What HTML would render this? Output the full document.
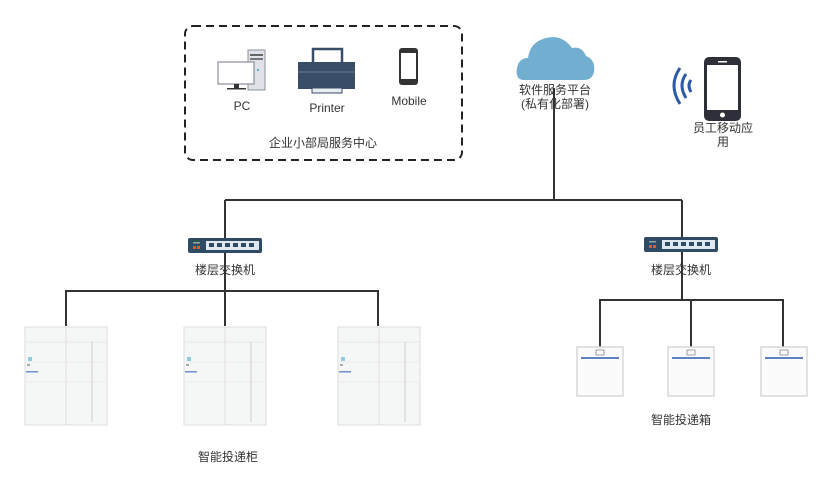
<!DOCTYPE html>
<html><head><meta charset="utf-8"><style>
body{margin:0;background:#fff;width:832px;height:501px;overflow:hidden;position:relative;font-family:"Liberation Sans","Noto Sans CJK SC",sans-serif;}
.t{position:absolute;font-size:12px;color:#333;white-space:nowrap;transform:translateX(-50%);line-height:14px;text-align:center;}
svg{position:absolute;left:0;top:0;}
</style></head><body>
<svg width="832" height="501" viewBox="0 0 832 501">
<defs>
<g id="sw">
<rect x="0" y="0" width="74" height="15" rx="2" fill="#2f4a63"/>
<rect x="18" y="3" width="53" height="9" fill="#dfe8f1"/>
<g fill="#2f4a63"><rect x="21" y="5" width="5" height="4"/><rect x="29" y="5" width="5" height="4"/><rect x="37" y="5" width="5" height="4"/><rect x="45" y="5" width="5" height="4"/><rect x="53" y="5" width="5" height="4"/><rect x="61" y="5" width="5" height="4"/></g>
<rect x="5" y="4" width="7" height="1.5" fill="#8aa"/>
<rect x="5" y="8" width="3" height="3" fill="#e05a2a"/><rect x="9" y="8" width="3" height="3" fill="#e05a2a"/>
</g>
<g id="cab">
<rect x="0" y="0" width="82" height="98" fill="#f5f6f6" stroke="#dcdcdc"/>
<line x1="41" y1="0" x2="41" y2="98" stroke="#dedede"/>
<line x1="0" y1="15" x2="82" y2="15" stroke="#e6e6e6"/>
<line x1="0" y1="35" x2="82" y2="35" stroke="#ebebeb"/>
<line x1="0" y1="55" x2="82" y2="55" stroke="#ebebeb"/>
<line x1="67" y1="15" x2="67" y2="95" stroke="#cfcfcf"/>
<rect x="3" y="30" width="4" height="4" fill="#8ecbe0"/>
<rect x="2" y="37" width="3" height="2" fill="#aaa"/>
<rect x="1" y="44" width="12" height="1.5" fill="#6f8fcf"/>
</g>
<g id="box">
<rect x="0" y="0" width="46" height="49" fill="#fbfbfb" stroke="#d8d8d8" stroke-width="1.5"/>
<rect x="19" y="3" width="8" height="5" fill="#fff" stroke="#888" stroke-width="0.8"/>
<rect x="4" y="10" width="38" height="2" fill="#5f83c0"/>
</g>
</defs>
<g stroke="#333" stroke-width="2" fill="none">
<path d="M554 88V200M225 200H682M225 200V326M66 326V291H378V326M682 200V300M600 348V300H783V348M691 300V348"/>
</g>
<rect x="185" y="26" width="277" height="134" rx="8" fill="none" stroke="#222" stroke-width="2" stroke-dasharray="8,5"/>
<use href="#sw" x="188" y="238"/>
<use href="#sw" x="644" y="237"/>
<use href="#cab" x="25" y="327"/>
<use href="#cab" x="184" y="327"/>
<use href="#cab" x="338" y="327"/>
<use href="#box" x="577" y="347"/>
<use href="#box" x="668" y="347"/>
<use href="#box" x="761" y="347"/>
<!-- cloud -->
<path d="M524 80 Q515 80 517 68 Q519 58 528 58 Q530 42 546 38 Q562 34 572 48 Q582 46 586 56 Q596 60 594 72 Q592 80 584 80 Z" fill="#72aed0"/>
<!-- PC -->
<rect x="248" y="50" width="17" height="40" fill="#dfe3e7" stroke="#8a9099"/>
<rect x="250" y="54" width="13" height="2" fill="#666"/><rect x="250" y="58" width="13" height="2" fill="#777"/>
<circle cx="258" cy="70" r="1" fill="#39c"/>
<rect x="218" y="62" width="36" height="22" fill="#fff" stroke="#8a9099" stroke-width="1.2"/>
<rect x="234" y="84" width="5" height="4" fill="#333"/><rect x="227" y="88" width="19" height="1.5" fill="#333"/>
<!-- printer -->
<rect x="313" y="49" width="29" height="15" fill="#fff" stroke="#3a4d66" stroke-width="2.5"/>
<rect x="298" y="62" width="57" height="27" fill="#3a4d66"/>
<line x1="298" y1="72" x2="355" y2="72" stroke="#6b7d93"/>
<rect x="312" y="88" width="30" height="5" fill="#e8edf2" stroke="#3a4d66"/>
<!-- small mobile -->
<rect x="399" y="48" width="19" height="37" rx="3" fill="#333"/>
<rect x="401" y="53" width="15" height="26" fill="#fff"/>
<!-- big phone -->
<rect x="704" y="57" width="37" height="64" rx="5" fill="#2d3038"/>
<rect x="707" y="65" width="31" height="45" fill="#fff"/>
<circle cx="722.5" cy="115" r="2.5" fill="#fff"/>
<rect x="718" y="61" width="9" height="1.5" fill="#fff"/>
<g fill="none" stroke="#2d5aa8" stroke-width="3">
<path d="M680 68 Q668 85 680 104"/><path d="M686 74 Q678 85 686 98"/><path d="M691 80 Q687 85 691 92"/>
</g>
</svg>
<div class="t" style="left:242px;top:99px;">PC</div>
<div class="t" style="left:327px;top:101px;">Printer</div>
<div class="t" style="left:409px;top:94px;">Mobile</div>
<div class="t" style="left:323px;top:136px;">企业小部局服务中心</div>
<div class="t" style="left:555px;top:83px;">软件服务平台<br>(私有化部署)</div>
<div class="t" style="left:723px;top:121px;">员工移动应<br>用</div>
<div class="t" style="left:225px;top:263px;">楼层交换机</div>
<div class="t" style="left:681px;top:263px;">楼层交换机</div>
<div class="t" style="left:228px;top:450px;">智能投递柜</div>
<div class="t" style="left:681px;top:413px;">智能投递箱</div>
</body></html>
